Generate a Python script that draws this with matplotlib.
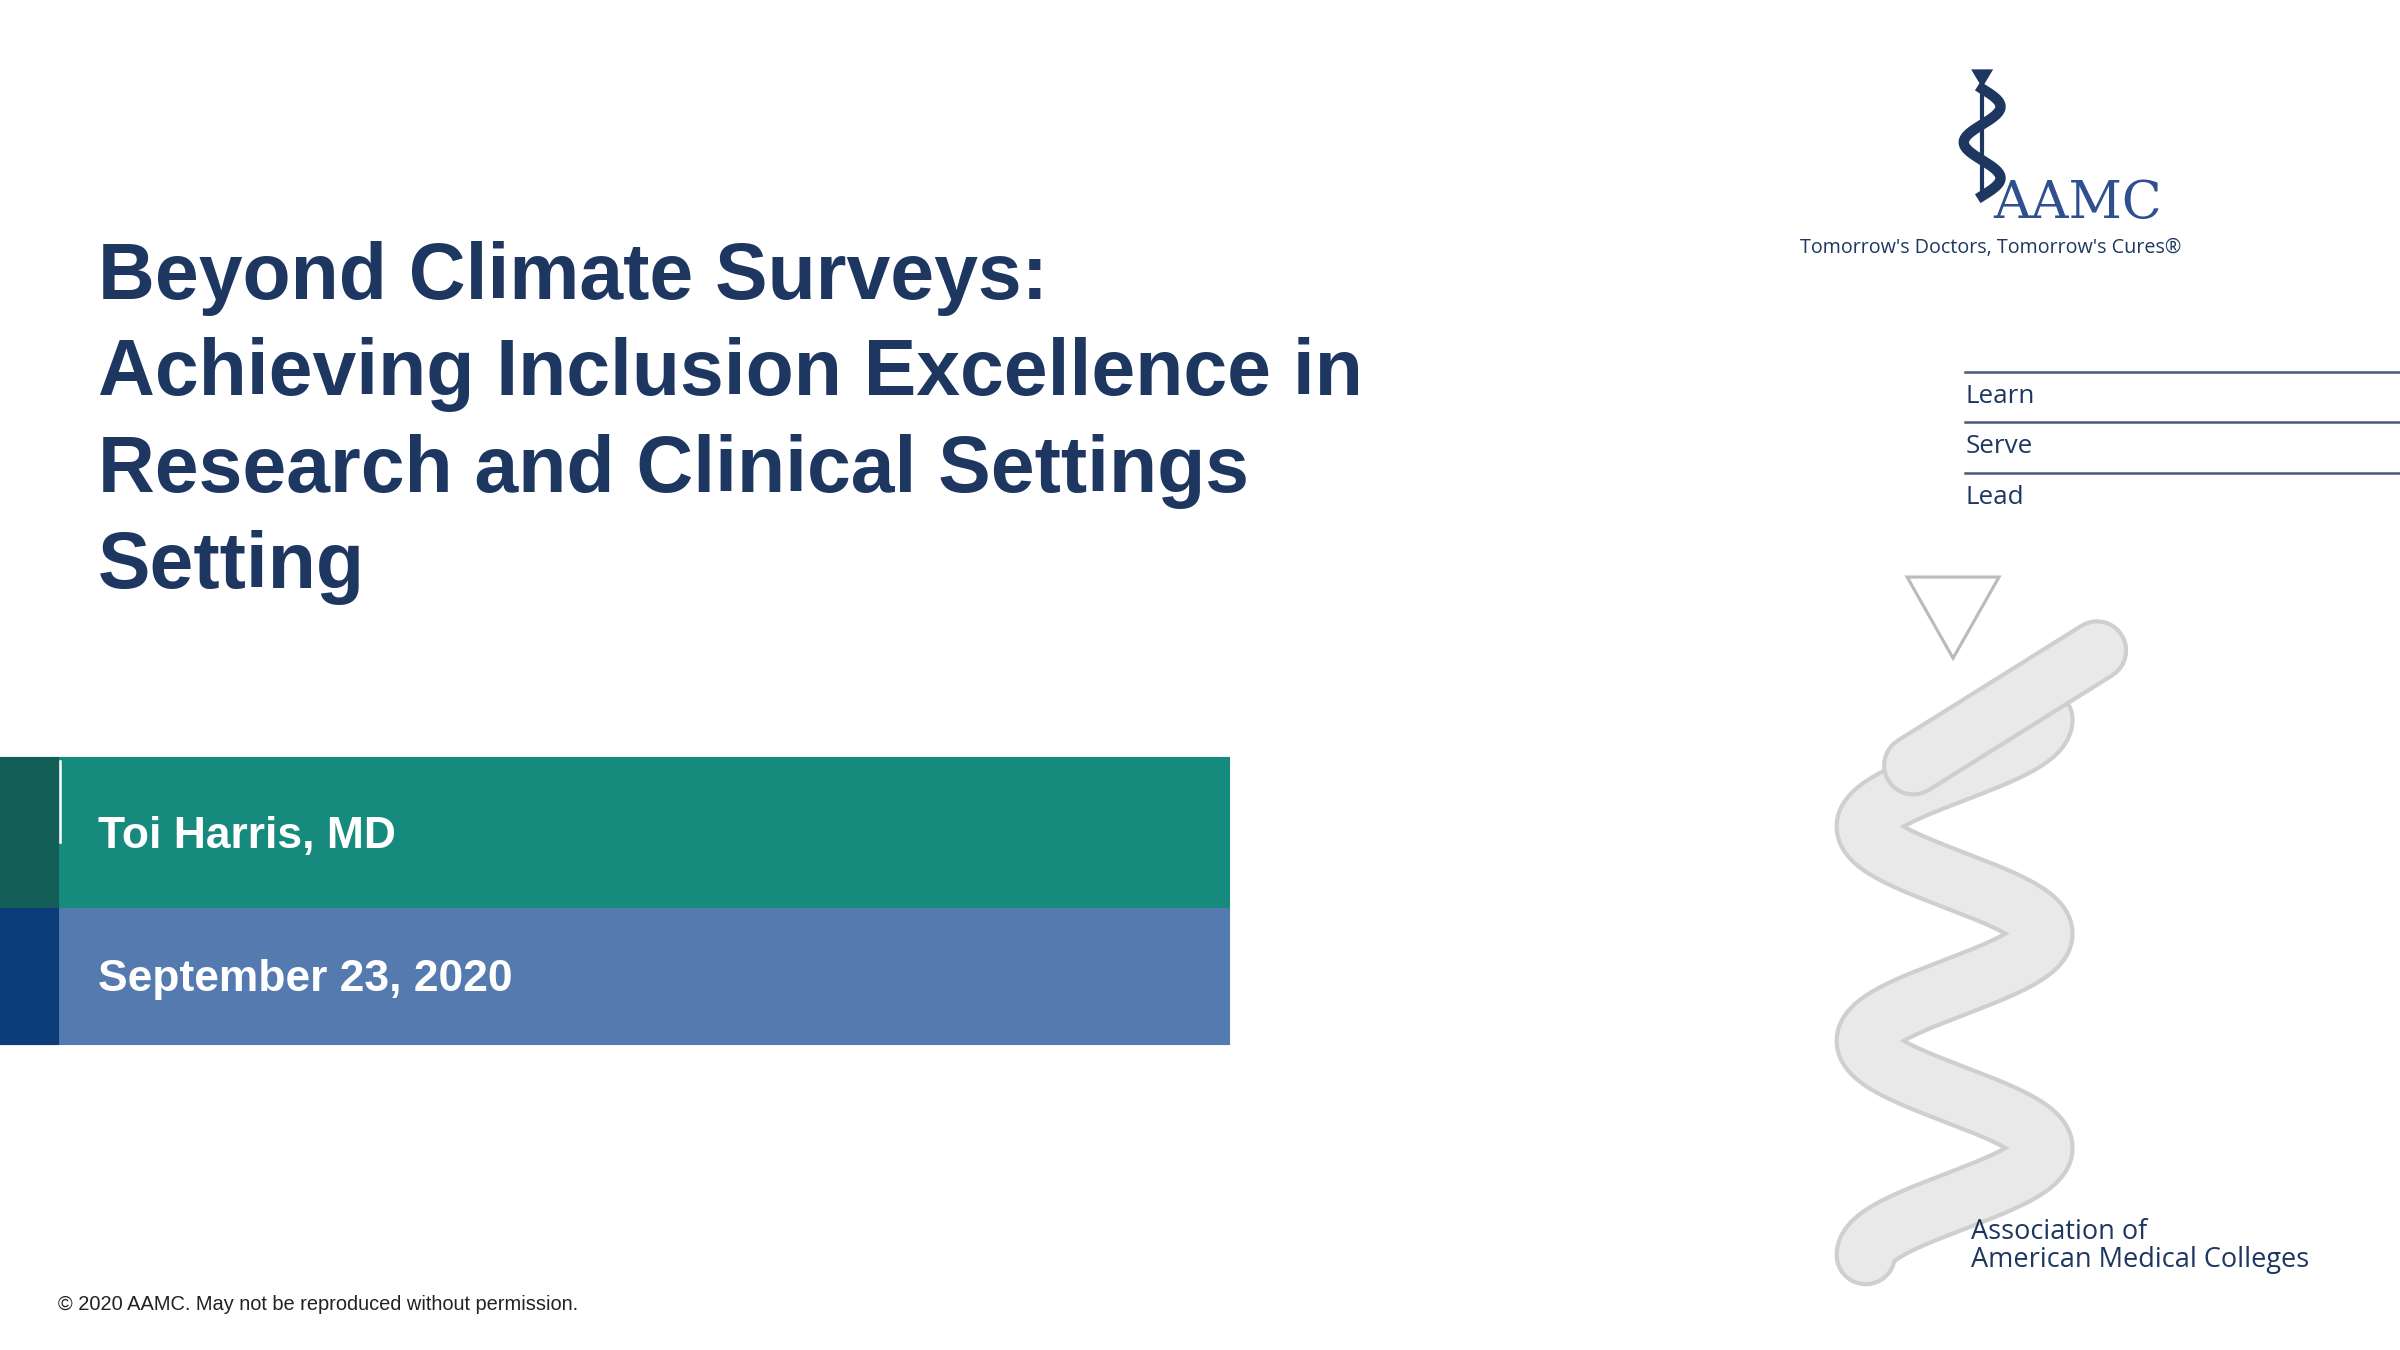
import numpy as np
import matplotlib.pyplot as plt
from matplotlib.patches import Rectangle, Polygon, Circle

# Slide canvas in reference pixel units
fig, ax = plt.subplots(figsize=(16, 9), dpi=150)
fig.subplots_adjust(0, 0, 1, 1)
ax.set_xlim(0, 1568)
ax.set_ylim(882, 0)
ax.axis('off')

navy = '#1D3761'

# Title lines
title = ["Beyond Climate Surveys:",
         "Achieving Inclusion Excellence in",
         "Research and Clinical Settings",
         "Setting"]
for i, line in enumerate(title):
    ax.text(64, 182 + i * 63, line, color=navy, fontsize=37.8, fontweight='bold',
            family='Liberation Sans', va='center')

# Presenter band (green) and date band (blue)
bands = [(495, 99, '#178A7E', '#135E56', "Toi Harris, MD"),
         (594, 88, '#557AB0', '#0D3C7A', "September 23, 2020")]
for y0, h, main, dark, label in bands:
    ax.add_patch(Rectangle((0, y0), 803, h, color=main))
    ax.add_patch(Rectangle((0, y0), 38, h, color=dark))
    ax.text(64, y0 + h / 2 + 2, label, color='white', fontsize=21.3, fontweight='bold',
            family='Liberation Sans', va='center')
ax.plot([39.5, 39.5], [497, 550], color='white', lw=1.2)  # thin divider

# Footer
ax.text(38, 852, "© 2020 AAMC. May not be reproduced without permission.", color='#222222',
        fontsize=9.6, family='Liberation Sans', va='center')

# Small logo at top right
ax.add_patch(Polygon([[1289, 46], [1301, 46], [1295, 56]], color=navy))
t = np.linspace(0, 1, 200)
ax.plot(1295 + 12 * np.sin(t * 3 * np.pi), 58 + 70 * t, color=navy, lw=5)
ax.plot([1295, 1295], [56, 130], color=navy, lw=2)
ax.text(1302, 133, "AAMC", color='#2F4F8F', fontsize=25, family='DejaVu Serif', va='center')
ax.text(1176, 162, "Tomorrow's Doctors, Tomorrow's Cures®", color=navy, fontsize=9.5,
        family='Open Sans', va='center')

# Learn / Serve / Lead
for y in [243, 276, 309]:
    ax.plot([1284, 1568], [y, y], color='#4A5A78', lw=1.2)
for i, word in enumerate(["Learn", "Serve", "Lead"]):
    ax.text(1284, 259 + i * 33, word, color=navy, fontsize=12.5, family='Open Sans', va='center')

# Large faded caduceus
grey = '#E9E9E9'
edge = '#CFCFCF'
ax.add_patch(Polygon([[1246, 377], [1306, 377], [1276, 430]], facecolor='white', edgecolor='#BBBBBB', lw=1.5))
s = np.linspace(0, 1, 400)
xs = 1277 + 58 * np.sin(s * 5 * np.pi + np.pi / 2)
ys = 470 + 350 * s
ax.plot(xs, ys, color=edge, lw=30, solid_capstyle='round')
ax.plot(xs, ys, color=grey, lw=26, solid_capstyle='round')
ax.plot([1250, 1370], [500, 425], color=edge, lw=30, solid_capstyle='round')
ax.plot([1250, 1370], [500, 425], color=grey, lw=26, solid_capstyle='round')
ax.add_patch(Circle((1356, 438), 7, facecolor='white', edgecolor='#BBBBBB'))
ax.text(1288, 814, "Association of\nAmerican Medical Colleges", color=navy, fontsize=13,
        family='Open Sans', va='center', linespacing=1.0)

fig.savefig('out.png', dpi=150)
